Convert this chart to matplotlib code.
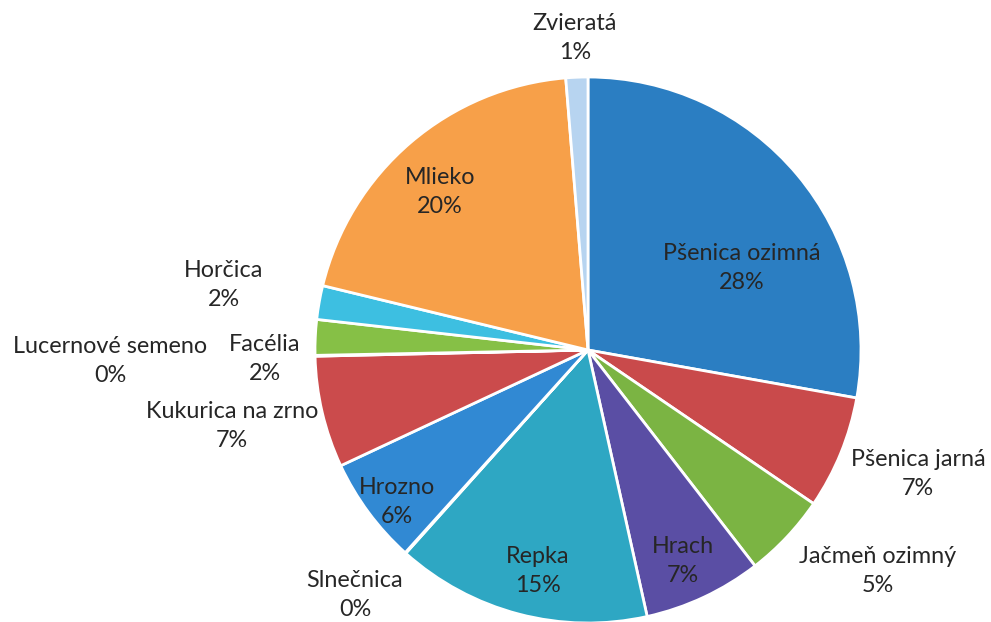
import matplotlib.pyplot as plt

# slices clockwise from 12 o'clock
categories = [
    "Pšenica ozimná", "Pšenica jarná", "Jačmeň ozimný", "Hrach", "Repka",
    "Slnečnica", "Hrozno", "Kukurica na zrno", "Lucernové semeno", "Facélia",
    "Horčica", "Mlieko", "Zvieratá",
]
shares = [27.8, 6.7, 5.0, 7.0, 15.1, 0.05, 6.35, 6.6, 0.05, 2.1, 2.0, 19.9, 1.3]

colors = [
    "#2b7ec2", "#c94a4b", "#7bb443", "#5a4ea4", "#2ea7c3",
    "#f08a2c", "#3189d3", "#cb4b4c", "#8e7cc3", "#86c046",
    "#3dbfe1", "#f7a049", "#b7d4f0",
]

# label centres in pixels (layout only)
label_px = [
    (742, 268), (918, 474), (878, 571), (683, 561), (538, 571),
    (355, 595), (397, 502), (232, 426), (110, 361), (265, 359),
    (224, 285), (440, 192), (575, 38),
]

W, H = 991, 622
CX, CY, R = 588, 350, 273

fig = plt.figure(figsize=(W / 100, H / 100), dpi=100)
ax = fig.add_axes([0, 0, 1, 1])
ax.pie(shares, colors=colors, startangle=90, counterclock=False,
       wedgeprops=dict(edgecolor="white", linewidth=2.0))
ax.set_aspect("auto")
ax.set_xlim(-CX / R, (W - CX) / R)
ax.set_ylim(-(H - CY) / R, CY / R)
ax.axis("off")

for name, val, (px, py) in zip(categories, shares, label_px):
    ax.text((px - CX) / R, (CY - py) / R, f"{name}\n{round(val)}%",
            ha="center", va="center", fontsize=16.8, family="Lato",
            color="#262626", linespacing=1.45)

fig.savefig("out.png", dpi=100)
